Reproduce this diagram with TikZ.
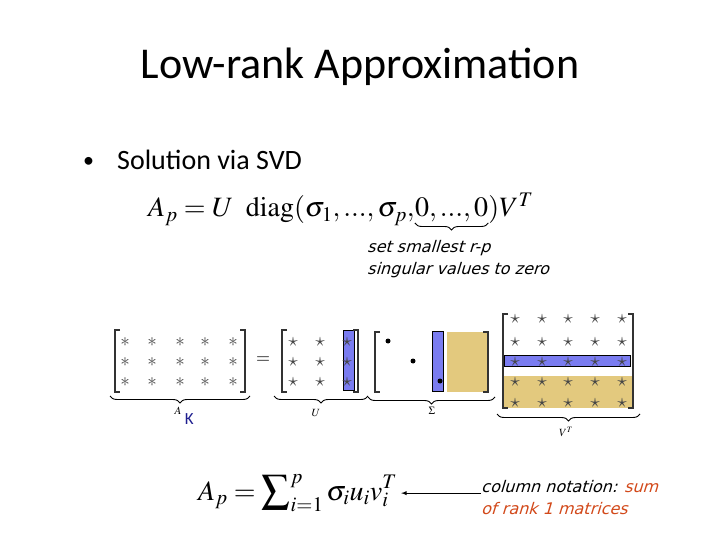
\documentclass[tikz,border=0pt]{standalone}
\usepackage{amsmath}
\usepackage{mathptmx}
\usepackage[no-math]{fontspec}
\setmainfont{Carlito}
\newfontfamily\notefont{DejaVu Sans}[FakeSlant=0.3]
\usetikzlibrary{decorations.pathreplacing,positioning,calc}

\definecolor{svdblue}{RGB}{122,124,240}
\definecolor{svdtan}{RGB}{227,201,126}
\definecolor{notered}{RGB}{210,73,26}
\definecolor{kblue}{RGB}{31,31,143}
\definecolor{stargray}{RGB}{70,70,70}

\tikzset{
  brk/.style={line width=1.1pt, black!80},
  ubrace/.style={decorate, decoration={brace, mirror, amplitude=7pt}, line width=0.9pt},
  entry/.style={inner sep=0pt, text=stargray, font=\fontsize{19}{19}\selectfont},
  note/.style={inner sep=0pt, align=left, font=\notefont\fontsize{16}{22}\selectfont},
}

% bracket pair: left x, right x, top y, bottom y
\newcommand{\mbrack}[4]{%
  \draw[brk] (#1+5,#3) -- (#1,#3) -- (#1,#4) -- (#1+5,#4);
  \draw[brk] (#2-5,#3) -- (#2,#3) -- (#2,#4) -- (#2-5,#4);}

\begin{document}
\begin{tikzpicture}[x=1pt, y=-1pt]
  \useasboundingbox (0,0) rectangle (720,540);

  % title and bullet
  \node (title) at (360,67) {\fontsize{44}{44}\selectfont Low-rank Approximation};
  \node[anchor=base west, inner sep=0pt] (bullet) at (83,168) {\fontsize{22}{22}\selectfont\textbullet};
  \node[anchor=base west, inner sep=0pt] (sol) at (117,170) {\fontsize{28}{28}\selectfont Solution via SVD};

  % truncated SVD
  \node[anchor=base west, inner sep=0pt] (fl) at (148,217)
    {\fontsize{28}{28}\selectfont $A_p = U\;\; \mathrm{diag}(\sigma_1,...,\sigma_p,$};
  \node[anchor=base west, inner sep=0pt] (fz) at (fl.base east)
    {\fontsize{28}{28}\selectfont $0,...,0$};
  \node[anchor=base west, inner sep=0pt] (fr) at (fz.base east)
    {\fontsize{28}{28}\selectfont $)V^T$};
  \draw[ubrace] ($(fz.base west)+(0,6)$) -- ($(fz.base east)+(0,6)$) coordinate[midway] (zmid);
  \node[note, anchor=north west] (zeronote) at (367,240) {set smallest r-p\\singular values to zero};

  % A
  \mbrack{115}{245}{330}{392}
  \foreach \x in {125,152,180,205,233}
    \foreach \y in {342,362,382}
      \node[entry] at (\x,\y) {$\ast$};
  \draw[ubrace] (110,396) -- (250,396);
  \node[inner sep=0pt] (alab) at (178,411) {\fontsize{11}{11}\selectfont $A$};
  \node[inner sep=0pt, text=kblue, right=3pt of alab, yshift=-8pt] (k) {\fontsize{17}{17}\selectfont K};

  \node[inner sep=0pt] (eq) at (263,360) {\fontsize{18}{18}\selectfont $=$};

  % U
  \fill[svdblue] (343,330) rectangle (354,390);
  \draw[black, line width=0.6pt] (343,330) rectangle (354,390);
  \mbrack{282}{358}{330}{392}
  \foreach \x in {293,320,347}
    \foreach \y in {342,362,382}
      \node[entry] at (\x,\y) {$\star$};
  \draw[ubrace] (274,396) -- (368,396);
  \node[inner sep=0pt] (ulab) at (316,413) {\fontsize{11}{11}\selectfont $U$};

  % Sigma
  \fill[svdblue] (432,331) rectangle (443,391);
  \draw[black, line width=0.6pt] (432,331) rectangle (443,391);
  \fill[svdtan] (447,332) rectangle (487,392);
  \mbrack{375}{488}{332}{392}
  \fill (388,341) circle (2.5pt);
  \fill (413,361) circle (2.5pt);
  \fill (440,381) circle (2.5pt);
  \draw[ubrace] (368,397) -- (495,397);
  \node[inner sep=0pt] (slab) at (432,411) {\fontsize{11}{11}\selectfont $\Sigma$};

  % V^T
  \fill[svdtan] (503,376) rectangle (634,408);
  \fill[svdblue] (504,355) rectangle (630,366);
  \draw[black, line width=0.6pt] (504,355) rectangle (630,366);
  \mbrack{503}{633}{314}{408}
  \foreach \x in {515,542,568,595,622}
    \foreach \y in {319,342,362,382,403}
      \node[entry] at (\x,\y) {$\star$};
  \draw[ubrace] (497,414) -- (640,414);
  \node[inner sep=0pt] (vlab) at (566,432) {\fontsize{11}{11}\selectfont $V^T$};

  % column notation
  \node[anchor=base west, inner sep=0pt] (sum) at (198,500)
    {\fontsize{28}{28}\selectfont $A_p = \displaystyle\sum\nolimits_{i=1}^{p} \sigma_i u_i v_i^T$};
  \node[note, anchor=north west] (colnote) at (481,480)
    {column notation: \textcolor{notered}{sum}\\\textcolor{notered}{of rank 1 matrices}};
  \draw[-latex, line width=0.9pt] (colnote.west |- sum.east) -- ([xshift=4pt]sum.east);
\end{tikzpicture}
\end{document}
